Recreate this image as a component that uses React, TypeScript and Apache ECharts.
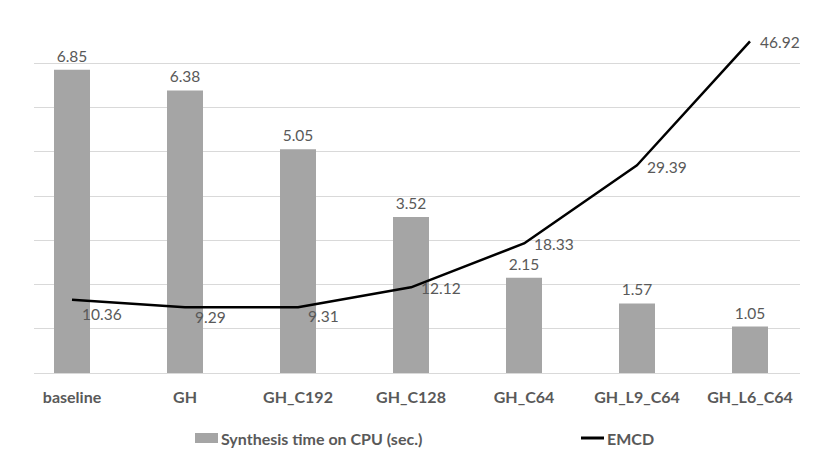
import React, { useEffect, useRef } from "react";
import * as echarts from "echarts";

const categories = ["baseline", "GH", "GH_C192", "GH_C128", "GH_C64", "GH_L9_C64", "GH_L6_C64"];
const synthesisTime = [6.85, 6.38, 5.05, 3.52, 2.15, 1.57, 1.05];
const emcd = [10.36, 9.29, 9.31, 12.12, 18.33, 29.39, 46.92];
const barName = "Synthesis time on CPU (sec.)";
const lineName = "EMCD";

// label vertical nudges for the line labels (style only)
const lineLabelDy = [14, 10, 9, 1, 1, 2, 1];

const FONT = "Lato, 'Open Sans', sans-serif";
const TXT = "#595959";

export default function App() {
  const ref = useRef<HTMLDivElement>(null);
  useEffect(() => {
    if (!ref.current) return;
    const chart = echarts.init(ref.current, null, { renderer: "svg" });
    const top = 63;
    const bottom = 452 - 373;
    chart.setOption({
      animation: false,
      backgroundColor: "#ffffff",
      textStyle: { fontFamily: FONT },
      grid: [
        { left: 15.5, right: 14.5, top, bottom },
        { left: 34, right: 21, top, bottom },
      ],
      legend: [
        {
          data: [{ name: barName, icon: "rect" }],
          left: 190,
          top: 425,
          itemWidth: 23,
          itemHeight: 10,
          itemGap: 5,
          textStyle: { color: TXT, fontWeight: "bold", fontSize: 16, fontFamily: FONT, padding: [0, 0, 0, -2] },
        },
        {
          data: [{ name: lineName, icon: "rect" }],
          left: 576,
          top: 425,
          itemWidth: 23,
          itemHeight: 3,
          textStyle: { color: TXT, fontWeight: "bold", fontSize: 16, fontFamily: FONT, padding: [0, 0, 0, -2] },
        },
      ],
      xAxis: [
        {
          type: "category",
          gridIndex: 0,
          data: categories,
          axisLine: { show: false },
          axisTick: { show: false },
          axisLabel: { color: TXT, fontWeight: "bold", fontSize: 16, fontFamily: FONT, margin: 15 },
        },
        { type: "value", gridIndex: 1, show: false, min: 0, max: 1 },
      ],
      yAxis: [
        {
          type: "value",
          gridIndex: 0,
          min: 0,
          max: 7,
          interval: 1,
          axisLabel: { show: false },
          axisLine: { show: false },
          axisTick: { show: false },
          splitLine: { show: false },
        },
        {
          type: "value",
          gridIndex: 0,
          position: "right",
          min: 0,
          max: 43.85,
          axisLabel: { show: false },
          axisLine: { show: false },
          axisTick: { show: false },
          splitLine: { show: false },
        },
        {
          type: "value",
          gridIndex: 1,
          min: 0,
          max: 7,
          interval: 1,
          axisLabel: { show: false },
          axisLine: { show: false },
          axisTick: { show: false },
          splitLine: { show: true, lineStyle: { color: "#d9d9d9", width: 1 } },
        },
      ],
      series: [
        {
          type: "scatter",
          xAxisIndex: 1,
          yAxisIndex: 2,
          data: [],
          silent: true,
        },
        {
          name: barName,
          type: "bar",
          xAxisIndex: 0,
          yAxisIndex: 0,
          data: synthesisTime,
          barWidth: 36,
          itemStyle: { color: "#a5a5a5" },
          label: {
            show: true,
            position: "top",
            distance: 6,
            color: TXT,
            fontSize: 15.5,
            fontFamily: FONT,
            formatter: (p: any) => p.value.toFixed(2),
          },
          z: 3,
        },
        {
          name: lineName,
          type: "line",
          xAxisIndex: 0,
          yAxisIndex: 1,
          clip: false,
          data: emcd.map((v, i) => ({
            value: v,
            label: { offset: [0, lineLabelDy[i]] },
          })),
          symbol: "circle",
          symbolSize: 0.1,
          itemStyle: { color: "#000000" },
          lineStyle: { color: "#000000", width: 2.5 },
          label: {
            show: true,
            position: "right",
            distance: 10,
            color: TXT,
            fontSize: 15.5,
            fontFamily: FONT,
            formatter: (p: any) => p.value.toFixed(2),
          },
          z: 4,
        },
      ],
    });
    return () => chart.dispose();
  }, []);
  return <div ref={ref} style={{ width: 821, height: 452, position: "absolute", left: 0, top: 0 }} />;
}
